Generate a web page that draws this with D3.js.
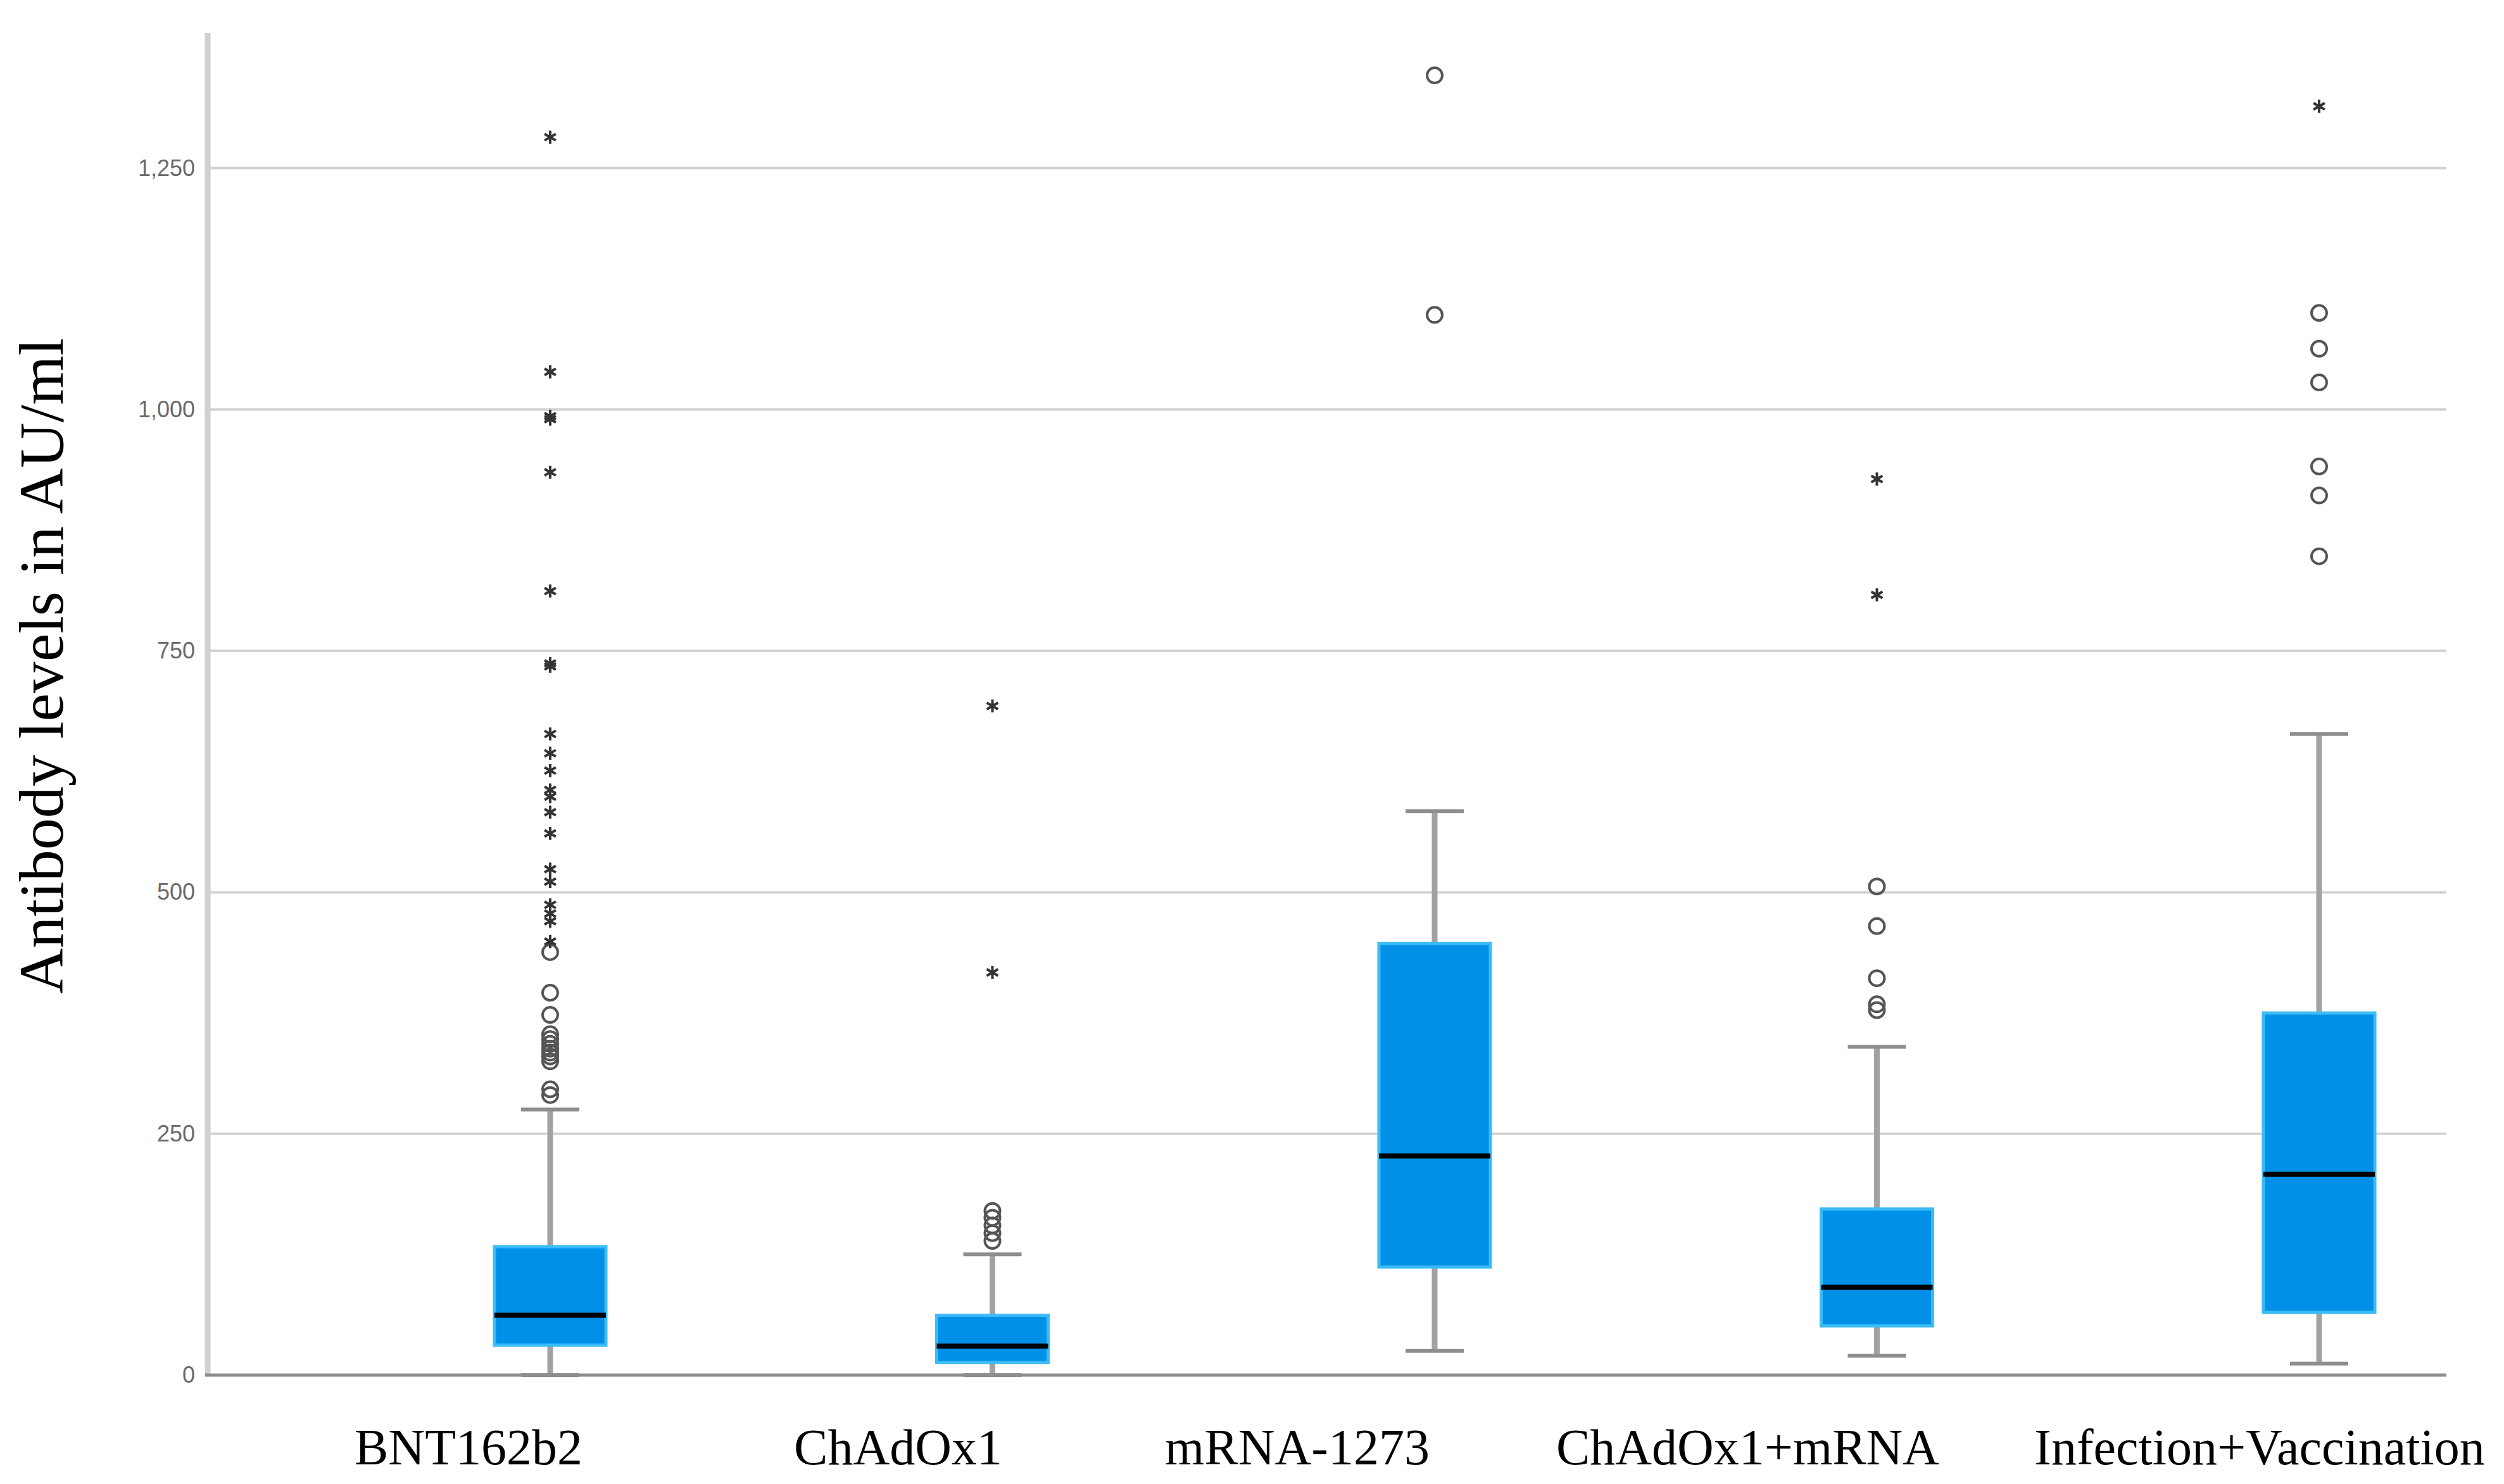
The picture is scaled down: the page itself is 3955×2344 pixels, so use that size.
<!DOCTYPE html>
<html>
<head>
<meta charset="utf-8">
<script src="https://cdn.jsdelivr.net/npm/d3@7"></script>
<style>
  body { margin: 0; background: #fff; }
</style>
</head>
<body>
<div class="chart"></div>
<script>
// values (AU/ml)
var categories = ["BNT162b2", "ChAdOx1", "mRNA-1273", "ChAdOx1+mRNA", "Infection+Vaccination"];
var whiskerLow = [0, 0, 25, 20, 12];
var q1 = [31, 13, 112, 51, 65];
var median = [62, 30, 227, 91, 208];
var q3 = [133, 62, 447, 172, 375];
var whiskerHigh = [275, 125, 584, 340, 664];
// open circles (outliers) and stars (extremes)
var outliers = [
  [290, 296, 325, 330, 334, 338, 343, 348, 353, 373, 396, 438],
  [139, 147, 155, 163, 170],
  [1098, 1346],
  [378, 384, 411, 465, 506],
  [848, 911, 941, 1028, 1063, 1100]
];
var extremes = [
  [449, 470, 478, 487, 511, 524, 561, 583, 599, 606, 626, 644, 664, 734, 737, 812, 935, 990, 993, 1039, 1282],
  [417, 693],
  [],
  [808, 928],
  [1314]
];
var tickVals = [0, 250, 500, 750, 1000, 1250];
var labelShift = [-129, -149, -217, -204, -94];

var svgWidth = 3955;
var svgHeight = 2344;

var axisLeftX = 328;
var axisRightX = 3864;
var axisBottomY = 2172;
var axisTopY = 52;
var boxWidth = 176;
var capWidth = 92;

var svg = d3.select(".chart")
  .append("svg")
  .attr("width", svgWidth)
  .attr("height", svgHeight)
  .style("display", "block")
  .style("background", "#fff");

var xScale = d3.scalePoint()
  .domain(categories)
  .range([869, 3663]);

var yScale = d3.scaleLinear()
  .domain([0, 1390])
  .range([axisBottomY, axisTopY]);

// gridlines
svg.append("g")
  .selectAll("line")
  .data(tickVals.filter(d => d > 0))
  .enter()
  .append("line")
  .attr("x1", axisLeftX)
  .attr("x2", axisRightX)
  .attr("y1", d => yScale(d))
  .attr("y2", d => yScale(d))
  .attr("stroke", "#d2d2d2")
  .attr("stroke-width", 4);

// y axis labels
var leftAxis = d3.axisLeft(yScale)
  .tickValues(tickVals)
  .tickSize(0)
  .tickPadding(20)
  .tickFormat(d3.format(","));

var yAxisG = svg.append("g")
  .attr("transform", `translate(${axisLeftX}, 0)`)
  .call(leftAxis);
yAxisG.select(".domain").remove();
yAxisG.selectAll("text")
  .attr("font-family", "Liberation Sans, Arial, sans-serif")
  .attr("font-size", 36)
  .attr("fill", "#6a6a6a");

// axis lines
svg.append("line")
  .attr("x1", axisLeftX).attr("x2", axisLeftX)
  .attr("y1", axisTopY).attr("y2", axisBottomY)
  .attr("stroke", "#d0d0d0")
  .attr("stroke-width", 9);

svg.append("line")
  .attr("x1", axisLeftX - 4).attr("x2", axisRightX)
  .attr("y1", axisBottomY).attr("y2", axisBottomY)
  .attr("stroke", "#8c8c8c")
  .attr("stroke-width", 5);

var groups = categories.map(function(c, i) {
  return {
    name: c,
    lo: whiskerLow[i], q1: q1[i], med: median[i], q3: q3[i], hi: whiskerHigh[i],
    out: outliers[i], ext: extremes[i], shift: labelShift[i]
  };
});

var g = svg.append("g");

// whiskers
g.selectAll(".wlow")
  .data(groups)
  .enter()
  .append("line")
  .attr("x1", d => xScale(d.name)).attr("x2", d => xScale(d.name))
  .attr("y1", d => yScale(d.lo)).attr("y2", d => yScale(d.q1))
  .attr("stroke", "#a2a2a2")
  .attr("stroke-width", 9);

g.selectAll(".whigh")
  .data(groups)
  .enter()
  .append("line")
  .attr("x1", d => xScale(d.name)).attr("x2", d => xScale(d.name))
  .attr("y1", d => yScale(d.q3)).attr("y2", d => yScale(d.hi))
  .attr("stroke", "#a2a2a2")
  .attr("stroke-width", 9);

// caps
["lo", "hi"].forEach(function(k) {
  g.selectAll(".cap-" + k)
    .data(groups)
    .enter()
    .append("line")
    .attr("x1", d => xScale(d.name) - capWidth / 2)
    .attr("x2", d => xScale(d.name) + capWidth / 2)
    .attr("y1", d => yScale(d[k]))
    .attr("y2", d => yScale(d[k]))
    .attr("stroke", "#8e8e8e")
    .attr("stroke-width", 6);
});

// boxes
g.selectAll("rect")
  .data(groups)
  .enter()
  .append("rect")
  .attr("x", d => xScale(d.name) - boxWidth / 2)
  .attr("width", boxWidth)
  .attr("y", d => yScale(d.q3))
  .attr("height", d => yScale(d.q1) - yScale(d.q3))
  .attr("fill", "#0090e8")
  .attr("stroke", "#3cbcf6")
  .attr("stroke-width", 5);

// medians
g.selectAll(".median")
  .data(groups)
  .enter()
  .append("line")
  .attr("x1", d => xScale(d.name) - boxWidth / 2)
  .attr("x2", d => xScale(d.name) + boxWidth / 2)
  .attr("y1", d => yScale(d.med))
  .attr("y2", d => yScale(d.med))
  .attr("stroke", "#000")
  .attr("stroke-width", 8);

// outliers (circles)
var outPts = [];
groups.forEach(function(d) {
  d.out.forEach(function(v) { outPts.push({name: d.name, v: v}); });
});
g.selectAll(".outlier")
  .data(outPts)
  .enter()
  .append("circle")
  .attr("cx", d => xScale(d.name))
  .attr("cy", d => yScale(d.v))
  .attr("r", 12)
  .attr("fill", "none")
  .attr("stroke", "#555")
  .attr("stroke-width", 4);

// extremes (stars)
var extPts = [];
groups.forEach(function(d) {
  d.ext.forEach(function(v) { extPts.push({name: d.name, v: v}); });
});
var star = d3.symbol().type(d3.symbolAsterisk).size(300);
g.selectAll(".extreme")
  .data(extPts)
  .enter()
  .append("path")
  .attr("d", star)
  .attr("transform", d => `translate(${xScale(d.name)}, ${yScale(d.v)})`)
  .attr("fill", "none")
  .attr("stroke", "#333")
  .attr("stroke-width", 4);

// category labels
svg.append("g")
  .selectAll("text")
  .data(groups)
  .enter()
  .append("text")
  .attr("x", d => xScale(d.name) + d.shift)
  .attr("y", 2313)
  .attr("text-anchor", "middle")
  .attr("font-family", "Liberation Serif, Times New Roman, serif")
  .attr("font-size", 80)
  .attr("fill", "#000")
  .text(d => d.name);

// y title
svg.append("text")
  .attr("transform", "translate(99, 1052) rotate(-90)")
  .attr("text-anchor", "middle")
  .attr("font-family", "Liberation Serif, Times New Roman, serif")
  .attr("font-size", 100)
  .attr("fill", "#000")
  .text("Antibody levels in AU/ml");
</script>
</body>
</html>
